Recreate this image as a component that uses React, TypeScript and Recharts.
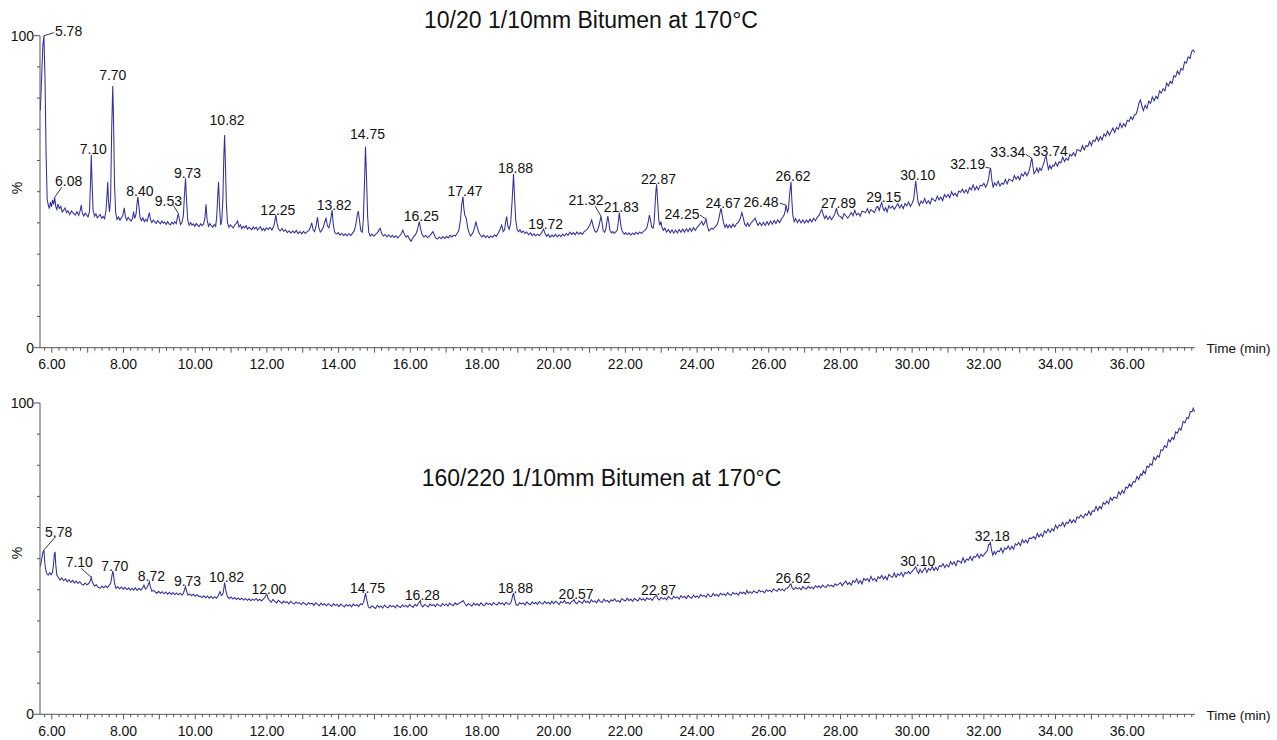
import React from "react";
import { LineChart, Line, XAxis, YAxis, ReferenceDot } from "recharts";

const FONT = "'Liberation Sans', Arial, sans-serif";
const AXIS = "#555555";
const TRACE = "#30309e";

// ---------- Top chromatogram (10/20) : [time (min), relative abundance %] ----------
const topTraceA: [number, number][] = [
  [5.68,76],[5.72,88],[5.75,97],[5.78,100],[5.81,86],[5.84,62],[5.87,47.5],[5.9,45.8],[5.93,44.6],[5.96,46.7],[5.99,45.1],[6.02,47.4],[6.05,45.9],[6.08,48.2],[6.11,45.2],[6.14,44.3],[6.17,46.1],[6.21,44.6],[6.25,45.3],[6.29,43.5],[6.33,44.1],[6.37,44.8],[6.41,43.3],[6.45,43.9],[6.5,42.7],[6.55,43.8],[6.6,43.1],[6.65,42.5],[6.7,43.6],[6.75,42.4],[6.79,43.9],[6.82,45.7],[6.85,43.2],[6.89,42.2],[6.93,43.1],[6.97,42.6],[7.01,41.9],[7.05,43.6],[7.08,53],[7.10,61.8],[7.12,54],[7.15,44.2],[7.19,42.1],[7.23,42.9],[7.27,41.6],[7.31,42.2],[7.35,42.7],[7.39,41.5],[7.43,42.1],[7.47,41.3],[7.51,43.8],[7.54,49],[7.56,53.2],[7.58,47],[7.61,43.5],[7.64,48],[7.67,70],[7.70,83.9],[7.72,74],[7.75,52],[7.78,43.3],[7.82,41.1],[7.86,41.9],[7.9,40.9],[7.94,41.6],[7.98,42.4],[8.02,44.8],[8.05,42.1],[8.09,40.8],[8.13,41.8],[8.17,41.1],[8.21,40.6],[8.25,41.4],[8.28,43.6],[8.31,41.4],[8.35,42.9],[8.38,46.5],[8.40,48.4],[8.43,45.3],[8.46,41.8],[8.5,40.7],[8.54,41.6],[8.58,40.4],[8.62,41.1],[8.66,40.5],[8.69,41.9],[8.72,43.3],[8.75,41.1],[8.79,40.1],[8.83,40.9],[8.87,40.4],[8.91,39.8],[8.95,40.7],[8.99,40.2],[9.03,39.7],[9.07,40.6],[9.11,39.9],[9.15,40.3],[9.19,39.5],[9.23,40.4],[9.27,39.7],[9.31,39.4],[9.35,40.2],[9.39,39.6],[9.43,40.4],[9.47,39.8],[9.50,41.6],[9.53,43],[9.56,41],[9.59,39.5],[9.63,40.1],[9.67,42.5],[9.70,49],[9.73,54.3],[9.76,47],[9.79,41],[9.83,39.2],[9.87,40.1],[9.91,39.3],[9.95,39.7],[9.99,38.9],[10.03,39.8],[10.07,39.2],[10.11,38.8],[10.15,39.7],[10.19,39.1],[10.23,39.6],[10.27,41.5],[10.30,46],[10.33,41.2],[10.37,38.9],[10.41,39.8],[10.45,39],[10.49,38.6],[10.53,39.5],[10.57,38.9],[10.6,42],[10.63,49],[10.65,53.2],[10.68,45],[10.71,39.3],[10.74,40.6],[10.77,47],[10.80,62],[10.82,68.2],[10.84,60],[10.87,46],[10.9,40.1],[10.94,38.6],[10.98,39.4],[11.02,38.9],[11.06,38.4],[11.1,39.3],[11.14,39.8],[11.18,40.6],[11.22,38.7],[11.26,39.4],[11.3,38.2],[11.34,38.9],[11.38,38.4],[11.42,39.1],[11.46,38],[11.5,38.6],[11.54,38.2],[11.58,37.8],[11.62,38.7],[11.66,38.1],[11.7,38.6],[11.74,37.7],[11.78,38.3],[11.82,38.8],[11.86,37.6],[11.9,38.2],[11.94,37.5],[11.98,38.4],
];
const topTraceB: [number, number][] = [
  [12.04,37.9],[12.09,38.6],[12.14,37.7],[12.19,38.9],[12.22,40.5],[12.25,42.5],[12.28,40],[12.32,38.1],[12.37,37.4],[12.42,38.2],[12.47,37.3],[12.52,37.8],[12.57,36.9],[12.62,37.5],[12.67,36.7],[12.72,37.4],[12.77,36.8],[12.82,37.6],[12.87,36.6],[12.92,37.2],[12.97,36.5],[13.02,37.3],[13.07,36.6],[13.12,37.1],[13.17,37.6],[13.21,38.5],[13.25,40],[13.29,37.8],[13.33,37.2],[13.37,39],[13.41,41.8],[13.45,38.4],[13.49,37.1],[13.53,37.6],[13.57,38.5],[13.61,40.2],[13.65,41.5],[13.69,39],[13.73,38.4],[13.77,40.5],[13.82,44.1],[13.85,39.5],[13.89,37],[13.94,36.4],[13.99,36.9],[14.04,36.1],[14.09,36.7],[14.14,35.9],[14.19,36.5],[14.24,35.8],[14.29,36.6],[14.34,35.9],[14.39,36.8],[14.44,37.5],[14.48,39.5],[14.52,42.5],[14.55,43.8],[14.58,41],[14.62,37.5],[14.66,37],[14.69,41],[14.72,52],[14.75,64.4],[14.78,54],[14.81,42],[14.84,37],[14.88,35.8],[14.93,36.4],[14.98,35.7],[15.03,36.3],[15.08,36.8],[15.12,37.6],[15.16,38.3],[15.2,36.6],[15.25,35.8],[15.3,36.3],[15.35,35.5],[15.4,36.2],[15.45,35.4],[15.5,36],[15.55,35.3],[15.6,35.9],[15.65,35.2],[15.7,35.8],[15.75,36.6],[15.79,37.7],[15.83,36.5],[15.88,35.4],[15.93,35.9],[15.98,34.8],[16.02,34.1],[16.06,35],[16.1,35.6],[16.15,36.3],[16.2,37.8],[16.25,40.4],[16.29,38],[16.33,36.2],[16.38,35.5],[16.43,36],[16.48,35.3],[16.53,35.8],[16.58,36.4],[16.63,37.2],[16.67,36.1],[16.71,35.2],[16.76,34.8],[16.81,35.5],[16.86,34.9],[16.91,35.6],[16.96,35],[17.01,35.7],[17.06,35.2],[17.11,36],[17.16,35.5],[17.21,36.1],[17.26,35.8],[17.3,36.5],[17.35,37.5],[17.4,41],[17.43,45.5],[17.47,48.4],[17.49,45],[17.52,42.5],[17.56,41.5],[17.6,38.5],[17.64,36.8],[17.68,35.8],[17.72,36.4],[17.76,37.2],[17.8,38.8],[17.83,40.4],[17.87,38.5],[17.91,37],[17.95,36.2],[18,35.5],[18.05,36.1],[18.1,35.3],[18.15,35.9],[18.2,35.2],[18.25,35.8],[18.3,35.4],[18.35,36.2],[18.4,35.7],[18.45,36.7],[18.5,37.8],[18.55,39.3],[18.59,37.2],[18.63,37.8],[18.66,40.5],[18.69,42],[18.72,39],[18.76,38],[18.8,40],[18.84,47],[18.88,55.7],[18.91,48],[18.94,41],[18.98,37.8],[19.02,37.2],[19.06,37.8],[19.1,36.9],[19.15,37.4],[19.2,36.6],[19.25,37.1],[19.3,36.2],[19.35,36.8],[19.4,35.9],[19.45,36.5],[19.5,35.8],[19.55,36.4],[19.6,35.9],[19.65,36.6],[19.69,37.5],[19.72,38],[19.75,36.8],[19.8,35.7],[19.85,36.3],[19.9,35.4],[19.95,36.1],
];
const topTraceC: [number, number][] = [
  [20,35.6],[20.05,36.3],[20.1,35.5],[20.15,36.2],[20.2,35.6],[20.25,36.4],[20.3,35.8],[20.35,36.6],[20.4,36],[20.45,37],[20.5,36.3],[20.55,36.9],[20.6,36.2],[20.65,37.1],[20.7,36.4],[20.75,36.9],[20.8,36.3],[20.85,37.2],[20.9,37.6],[20.95,38.2],[21,39.2],[21.03,40],[21.06,40.9],[21.1,39],[21.14,37.6],[21.18,37],[21.22,37.5],[21.26,39],[21.29,40.5],[21.32,42.2],[21.35,40],[21.38,37.6],[21.42,37],[21.45,37.8],[21.48,40],[21.51,42.2],[21.54,40],[21.57,37.6],[21.61,36.8],[21.65,37.2],[21.69,36.6],[21.73,37.1],[21.77,37.6],[21.8,40],[21.83,43.3],[21.86,40.5],[21.89,38],[21.93,37],[21.97,36.4],[22.01,36.9],[22.05,36.2],[22.1,36.8],[22.15,36.1],[22.2,36.7],[22.25,36.3],[22.3,37],[22.35,36.4],[22.4,37.1],[22.45,36.6],[22.5,37.3],[22.55,37.6],[22.6,38.5],[22.64,40.5],[22.67,42.5],[22.7,41],[22.73,38.8],[22.77,38.3],[22.8,40],[22.83,46],[22.85,50],[22.87,52.4],[22.9,47],[22.93,41],[22.96,39.2],[22.99,40.4],[23.02,38.6],[23.06,37.6],[23.1,38.3],[23.15,37],[23.2,37.9],[23.25,36.8],[23.3,37.8],[23.35,36.7],[23.4,37.7],[23.45,36.8],[23.5,37.9],[23.55,37],[23.6,38],[23.65,37],[23.7,38.1],[23.75,37.2],[23.8,38.3],[23.85,37.3],[23.9,38.5],[23.95,37.6],[24,38.6],[24.05,39.2],[24.09,39.8],[24.13,40.4],[24.17,39.3],[24.21,40],[24.25,41.2],[24.29,38.8],[24.33,37.4],[24.37,37.9],[24.41,38.3],[24.45,38],[24.49,38.6],[24.53,39],[24.57,39.8],[24.61,41.5],[24.64,43.3],[24.67,44.7],[24.7,42.5],[24.74,40],[24.78,38.6],[24.82,39.5],[24.86,38.4],[24.9,39.4],[24.95,38.5],[25,39.6],[25.05,38.7],[25.1,39.8],[25.15,40.1],[25.2,41.3],[25.25,43.3],[25.29,41.5],[25.33,39.5],[25.37,39],[25.41,40],[25.45,38.9],[25.5,39.9],[25.54,40.4],[25.58,41],[25.62,41.5],[25.66,40.2],[25.7,39.2],[25.75,40.1],[25.8,39.1],[25.85,40.2],[25.9,39.2],[25.95,40.4],[26,39.4],[26.05,40.6],[26.1,39.6],[26.15,40.8],[26.2,39.8],[26.25,41],[26.3,40.1],[26.35,41.2],[26.39,41.8],[26.43,42.6],[26.46,44],[26.48,45.7],[26.52,43.5],[26.55,44.5],[26.58,49],[26.62,53.2],[26.64,48],[26.67,42.5],[26.71,40.4],[26.75,41.4],[26.8,40.1],[26.85,41.1],[26.9,40],[26.95,41],[27,39.9],[27.05,40.9],[27.1,40.1],[27.15,41.2],[27.2,40.3],[27.25,41.5],[27.3,40.7],[27.35,41.8],[27.4,42.4],[27.44,43.4],[27.48,44.3],[27.52,42.6],[27.56,41.4],[27.6,42.3],[27.65,41.1],[27.7,42.1],[27.75,41],[27.8,42],[27.84,42.8],[27.89,44.7],[27.92,43],[27.96,42.2],
];
const topTraceD: [number, number][] = [
  [28,42.1],[28.05,41.3],[28.1,43],[28.15,42.3],[28.2,41.5],[28.25,42.3],[28.3,43.3],[28.35,42.3],[28.4,44],[28.45,42.5],[28.5,43.1],[28.55,42.2],[28.6,43.8],[28.65,43.6],[28.7,43.3],[28.75,44.6],[28.8,43.1],[28.85,44.3],[28.9,43.8],[28.95,43.3],[29,44.9],[29.04,45.3],[29.08,44],[29.12,45.6],[29.15,46.5],[29.18,45],[29.22,43.9],[29.26,44.9],[29.3,43.5],[29.35,45.5],[29.4,44.7],[29.45,45.4],[29.5,44.3],[29.55,45.3],[29.6,46.2],[29.65,44.8],[29.7,45.8],[29.75,44.6],[29.8,46.2],[29.85,45.5],[29.9,46.7],[29.95,45.3],[30,46.3],[30.04,47.5],[30.07,50.5],[30.10,53.5],[30.13,50],[30.16,47],[30.2,45.6],[30.25,47],[30.3,46.3],[30.35,47.8],[30.4,46.2],[30.45,47.1],[30.5,46.1],[30.55,47.9],[30.6,47.4],[30.65,47],[30.7,48.6],[30.75,47.4],[30.8,48.3],[30.85,47.1],[30.9,49.1],[30.95,48.2],[31,49.1],[31.05,48.1],[31.1,50],[31.15,48.8],[31.2,49.5],[31.25,48.5],[31.3,50.2],[31.35,49.8],[31.4,50.8],[31.45,49.6],[31.5,50.6],[31.55,49.5],[31.6,51.3],[31.65,50.6],[31.7,52.2],[31.75,50.5],[31.8,51.7],[31.85,50.6],[31.9,52.1],[31.95,51.8],[32,52.7],[32.05,51.4],[32.09,52.4],[32.13,54],[32.16,56.5],[32.19,57.5],[32.22,54],[32.26,51.3],[32.3,52.8],[32.35,52],[32.4,53.4],[32.45,51.8],[32.5,52.7],[32.55,52.4],[32.6,53.9],[32.65,52.5],[32.7,54],[32.75,53.8],[32.8,53.3],[32.85,55.2],[32.9,54],[32.95,54.9],[33,53.8],[33.05,55.7],[33.1,55],[33.15,56.3],[33.2,55.1],[33.25,56.3],[33.29,58],[33.32,60],[33.34,60.7],[33.37,58],[33.4,55.8],[33.44,56.5],[33.48,57.6],[33.52,56.2],[33.56,57.6],[33.6,56.8],[33.64,58.1],[33.68,59.5],[33.71,61],[33.74,61.4],[33.77,59],[33.8,57.2],[33.84,58.4],[33.88,57.3],[33.92,58.5],[33.96,58.2],[34,59.4],[34.05,58.2],[34.1,59.6],[34.15,59.3],[34.2,61.1],[34.25,59.7],[34.3,60.7],[34.35,60.1],[34.4,62],[34.45,61.5],[34.5,62.5],[34.55,61.4],[34.6,63.5],[34.65,63.3],[34.7,62.9],[34.75,64.8],[34.8,63.4],[34.85,64.8],[34.9,64.5],[34.95,66.1],[35,64.8],[35.05,66.5],[35.1,66.1],[35.15,67.6],[35.2,66.2],[35.25,67.6],[35.3,66.6],[35.35,68.5],[35.4,67.8],[35.45,69.4],[35.5,68.1],[35.55,69.3],[35.6,70.4],[35.65,69],[35.7,70.6],[35.75,70],[35.8,71.9],[35.85,70.5],[35.9,71.8],[35.95,70.9],[36,72.9],[36.05,72.5],[36.1,74],[36.15,73.1],[36.2,74.6],[36.25,74.9],[36.29,76.5],[36.33,78.5],[36.37,79.4],[36.41,77.3],[36.45,76],[36.5,77.7],[36.55,76.7],[36.6,79],[36.65,78.3],[36.7,80.4],[36.75,79.1],[36.8,80.6],[36.85,79.8],[36.9,82.3],[36.95,81.6],[37,83],[37.05,82.3],[37.1,84.8],[37.15,83.9],[37.2,85.4],[37.25,84.7],[37.3,87.2],[37.35,86.8],[37.4,88.7],[37.45,87.6],[37.5,89.5],[37.55,89],[37.6,91.6],[37.65,91.2],[37.7,93.2],[37.75,92.7],[37.8,95],[37.84,95.4],[37.88,94.6],
];

// ---------- Bottom chromatogram (160/220) ----------
const botTraceA: [number, number][] = [
  [5.68,47.5],[5.72,50],[5.75,52],[5.78,52.8],[5.8,49],[5.83,46.4],[5.86,45.2],[5.9,44.7],[5.94,45.5],[5.98,44.8],[6.02,45.6],[6.05,48.5],[6.07,51.5],[6.09,52.2],[6.11,48],[6.14,44.7],[6.18,44],[6.23,43.1],[6.28,43.8],[6.33,42.9],[6.38,43.5],[6.43,42.6],[6.48,43.2],[6.53,42.4],[6.58,43],[6.63,42.2],[6.68,42.8],[6.73,42],[6.78,42.6],[6.83,41.8],[6.88,41.5],[6.93,42.2],[6.98,41.6],[7.03,42],[7.07,42.8],[7.10,44],[7.12,43],[7.15,42],[7.19,41.2],[7.24,41.6],[7.29,40.8],[7.35,40.5],[7.4,41.2],[7.45,40.6],[7.5,41.3],[7.55,40.7],[7.6,41.4],[7.64,42],[7.67,44],[7.70,46],[7.72,45],[7.75,42],[7.79,40.5],[7.84,41],[7.89,40.3],[7.94,40.9],[7.99,40.2],[8.04,40.8],[8.09,40],[8.14,40.6],[8.19,39.9],[8.24,40.5],[8.28,39.9],[8.33,40.6],[8.38,39.8],[8.43,40.5],[8.48,39.9],[8.53,40.6],[8.57,41.5],[8.61,40.3],[8.65,40.6],[8.69,41.6],[8.72,42.6],[8.75,41],[8.79,39.5],[8.84,39.8],[8.89,39.2],[8.93,38.9],[8.98,39.5],[9.03,38.9],[9.08,39.4],[9.13,38.7],[9.18,39.3],[9.23,38.6],[9.28,39.2],[9.33,38.5],[9.38,39.1],[9.43,38.4],[9.48,39],[9.53,38.4],[9.58,38.9],[9.63,38.3],[9.67,38.9],[9.70,40],[9.73,41],[9.76,39.5],[9.8,38.3],[9.85,38.7],[9.9,38.1],[9.95,38.6],[10,37.9],[10.05,38.5],[10.1,37.8],[10.14,38],[10.19,37.5],[10.24,38.1],[10.29,37.4],[10.34,38],[10.39,37.3],[10.44,37.9],[10.49,37.2],[10.54,37.8],[10.59,37.3],[10.64,38],[10.69,39.4],[10.73,38.2],[10.77,38.6],[10.80,40.5],[10.82,42.3],[10.86,39.5],[10.9,37.8],[10.95,37.2],[11,37.7],[11.05,37],[11.1,37.5],[11.15,36.9],[11.2,37.4],[11.25,36.8],[11.3,37.3],[11.35,36.7],[11.4,37.2],[11.45,36.6],[11.5,37.1],[11.55,36.5],[11.6,37],[11.65,36.6],[11.7,37.2],[11.75,36.5],[11.8,37],[11.85,36.4],[11.9,37],[11.94,37.5],[11.97,38.2],[12.00,38.5],[12.03,37.2],
];
const botTraceB: [number, number][] = [
  [12.07,36.6],[12.12,36],[12.17,36.9],[12.22,36.3],[12.27,35.8],[12.32,36.6],[12.37,36.1],[12.42,35.6],[12.46,36.4],[12.51,35.9],[12.56,36.2],[12.61,35.5],[12.66,36.3],[12.71,35.8],[12.76,35.4],[12.81,36.1],[12.86,35.6],[12.91,35.9],[12.96,35.2],[13.01,36],[13.06,35.5],[13.11,35.1],[13.16,35.9],[13.21,35.4],[13.26,35.7],[13.31,35],[13.36,35.8],[13.41,35.3],[13.46,34.9],[13.51,35.7],[13.56,35.1],[13.61,35.5],[13.66,34.8],[13.71,35.6],[13.76,35.1],[13.81,34.7],[13.86,35.5],[13.91,35],[13.96,35.3],[14.01,34.6],[14.06,35.4],[14.11,34.9],[14.16,34.5],[14.21,35.3],[14.26,34.8],[14.31,35.2],[14.36,34.5],[14.41,35.4],[14.46,34.9],[14.51,35.2],[14.56,34.6],[14.61,35.5],[14.66,35.2],[14.7,36.2],[14.73,37.8],[14.75,38.9],[14.79,36.5],[14.83,34.5],[14.88,34.1],[14.93,34.9],[14.98,34.4],[15.03,34],[15.08,35],[15.13,34.4],[15.18,34.8],[15.23,34.1],[15.28,35.1],[15.33,34.5],[15.38,34.2],[15.43,35],[15.48,34.5],[15.53,34.9],[15.58,34.2],[15.63,35.1],[15.68,34.6],[15.73,34.3],[15.78,35.2],[15.83,34.6],[15.88,35],[15.93,34.4],[15.98,35.3],[16.03,34.7],[16.08,34.4],[16.13,35.3],[16.18,34.8],[16.22,35.6],[16.25,36],[16.28,36.5],[16.3,35.2],[16.35,34.5],[16.4,35.3],[16.45,34.9],[16.5,34.5],[16.55,35.4],[16.6,34.9],[16.65,35.2],[16.7,34.6],[16.75,35.5],[16.8,35],[16.85,34.7],[16.9,35.6],[16.95,35],[17,35.4],[17.05,34.8],[17.1,35.7],[17.15,35.2],[17.2,34.9],[17.25,35.8],[17.3,35.2],[17.35,35.6],[17.4,35.9],[17.45,36.3],[17.48,36.5],[17.52,35.6],[17.57,34.8],[17.62,35.6],[17.67,35.1],[17.72,34.8],[17.77,35.7],[17.82,35.1],[17.87,35.5],[17.92,34.9],[17.97,35.8],[18.02,35.2],[18.07,34.9],[18.12,35.8],[18.17,35.3],[18.22,35.6],[18.27,35],[18.32,35.9],[18.37,35.4],[18.42,35.1],[18.47,36],[18.52,35.4],[18.57,35.8],[18.62,35.1],[18.67,36],[18.72,35.5],[18.77,35.3],[18.82,36.3],[18.85,37.8],[18.88,38.9],[18.91,37],[18.95,35.2],[19,35],[19.05,35.9],[19.1,35.4],[19.15,35.8],[19.2,35.1],[19.25,36.1],[19.3,35.5],[19.35,35.2],[19.4,36.1],[19.45,35.5],[19.5,35.9],[19.55,35.3],[19.6,36.2],[19.65,35.7],[19.7,35.4],[19.75,36.3],[19.8,35.6],[19.85,36],[19.9,35.4],[19.95,36.3],
];
const botTraceC: [number, number][] = [
  [20,35.5],[20.05,36.3],[20.1,35.9],[20.15,35.3],[20.2,36.2],[20.25,35.8],[20.3,36.6],[20.35,35.6],[20.4,36],[20.45,35.4],[20.5,36.3],[20.54,36.5],[20.57,36.8],[20.6,35.9],[20.65,35.5],[20.7,36.4],[20.75,36.1],[20.8,35.6],[20.85,36.7],[20.9,35.9],[20.95,36.3],[21,35.7],[21.05,36.8],[21.1,36.1],[21.15,36.4],[21.2,35.8],[21.25,36.9],[21.3,36.2],[21.35,35.9],[21.4,37],[21.45,36.3],[21.5,36.6],[21.55,35.9],[21.6,36.8],[21.65,36.4],[21.7,37.1],[21.75,36.2],[21.8,36.6],[21.85,36],[21.9,37.2],[21.95,36.7],[22,36.4],[22.05,37.3],[22.1,36.5],[22.15,37],[22.2,36.3],[22.25,37.2],[22.3,36.8],[22.35,36.4],[22.4,37.4],[22.45,36.7],[22.5,37.1],[22.55,36.5],[22.6,37.4],[22.65,36.9],[22.7,37.2],[22.75,36.6],[22.8,37.5],[22.84,38],[22.87,38.3],[22.9,37.2],[22.95,36.7],[23,37.6],[23.05,37],[23.1,37.4],[23.15,36.8],[23.2,37.9],[23.25,37.3],[23.3,37],[23.35,37.9],[23.4,37.3],[23.45,37.7],[23.5,37],[23.55,38.1],[23.6,37.5],[23.65,37.9],[23.7,37.2],[23.75,38.2],[23.8,37.6],[23.85,37.3],[23.9,38.3],[23.95,37.6],[24,38],[24.05,37.4],[24.1,38.5],[24.15,37.9],[24.2,38.2],[24.25,37.6],[24.3,38.7],[24.35,38],[24.4,37.8],[24.45,38.8],[24.5,38.1],[24.55,38.5],[24.6,37.9],[24.65,38.9],[24.7,38.4],[24.75,38.7],[24.8,38.1],[24.85,39.1],[24.9,38.5],[24.95,38.2],[25,39.2],[25.05,38.6],[25.1,38.9],[25.15,38.3],[25.2,39.3],[25.25,38.8],[25.3,39.2],[25.35,38.6],[25.39,39.8],[25.43,38.9],[25.48,39.4],[25.53,38.8],[25.58,39.7],[25.63,39.2],[25.68,39],[25.73,39.9],[25.78,39.3],[25.83,39.6],[25.88,39],[25.93,40],[25.98,39.5],[26.03,39.9],[26.08,39.3],[26.13,40.3],[26.18,39.8],[26.23,39.5],[26.28,40.4],[26.33,39.8],[26.38,40.2],[26.43,39.6],[26.48,40.5],[26.53,40.6],[26.57,41.2],[26.6,41.8],[26.62,41.9],[26.65,40.6],[26.7,40],[26.75,40.8],[26.8,40.3],[26.85,40.7],[26.9,40],[26.95,41],[27,40.5],[27.05,40.2],[27.1,41.1],[27.15,40.5],[27.2,40.9],[27.25,40.3],[27.3,41.3],[27.35,40.8],[27.4,41.2],[27.45,40.6],[27.5,41.5],[27.55,41],[27.6,40.8],[27.65,41.7],[27.7,41.1],[27.75,41.5],[27.8,40.9],[27.85,41.9],[27.9,41.4],[27.95,41.8],
];
const botTraceD: [number, number][] = [
  [28,42.3],[28.05,41.3],[28.1,42.2],[28.15,42.8],[28.2,41.7],[28.25,42.3],[28.3,41.5],[28.35,43],[28.4,42.3],[28.45,43.5],[28.5,42.1],[28.55,43],[28.6,41.9],[28.65,43.6],[28.7,43],[28.75,43.6],[28.8,42.6],[28.85,44.3],[28.9,43.1],[28.95,43.6],[29,42.7],[29.05,44.2],[29.1,43.6],[29.15,44.6],[29.2,43.4],[29.25,44.3],[29.3,43.2],[29.35,44.9],[29.4,44.4],[29.45,44],[29.5,45.4],[29.55,44],[29.6,45.1],[29.65,44.6],[29.7,45.6],[29.75,44.2],[29.8,45.6],[29.85,45.2],[29.9,45.9],[29.94,45.1],[29.98,45.7],[30.02,46.2],[30.06,46.8],[30.10,47.4],[30.14,46],[30.18,45.2],[30.22,46.6],[30.27,45.5],[30.31,46.2],[30.36,47.1],[30.41,45.6],[30.46,46.8],[30.51,46.3],[30.56,47.5],[30.61,46.2],[30.66,47.2],[30.71,46.3],[30.76,47.8],[30.81,47.4],[30.86,48.4],[30.91,47.1],[30.96,48.1],[31.02,47.3],[31.07,49.1],[31.12,48.1],[31.17,49],[31.22,47.7],[31.27,49.4],[31.32,49.1],[31.37,48.6],[31.42,50.3],[31.47,48.8],[31.52,49.9],[31.57,49.5],[31.62,50.7],[31.67,49.4],[31.72,50.7],[31.77,50.4],[31.82,51.5],[31.87,50.2],[31.92,51.4],[31.97,50.7],[32.01,51.4],[32.06,52.1],[32.1,52.6],[32.13,54.5],[32.16,54.6],[32.18,55.4],[32.21,53],[32.25,51.1],[32.29,52.3],[32.33,51.4],[32.38,52.5],[32.43,52.2],[32.48,53.4],[32.53,51.9],[32.58,53.4],[32.63,53],[32.68,54.1],[32.73,52.9],[32.78,54],[32.83,53],[32.88,54.8],[32.92,54.3],[32.97,55.2],[33.02,54.2],[33.07,56.1],[33.12,55.1],[33.17,56],[33.22,55],[33.27,56.7],[33.32,56.4],[33.39,57.1],[33.44,56.3],[33.49,58.1],[33.54,57],[33.59,57.9],[33.64,57],[33.69,58.9],[33.74,58.2],[33.79,59.5],[33.85,58.4],[33.9,59.6],[33.95,58.9],[34,60.8],[34.05,59.7],[34.1,60.8],[34.15,60.5],[34.2,61.7],[34.25,60.3],[34.3,61.7],[34.35,61.3],[34.4,62.6],[34.45,61.5],[34.5,62.5],[34.55,61.6],[34.6,63.4],[34.65,63],[34.7,64],[34.78,63.1],[34.83,64.4],[34.88,63.9],[34.93,65.3],[34.98,64],[35.03,65.4],[35.08,65.2],[35.13,66.8],[35.18,65.5],[35.23,66.8],[35.28,66],[35.33,68],[35.38,67.4],[35.43,68.5],[35.48,67.6],[35.53,69.6],[35.58,68.7],[35.63,69.8],[35.71,69.4],[35.76,71.5],[35.81,70.6],[35.86,71.9],[35.91,71],[35.96,73],[36.01,72.6],[36.06,74],[36.11,73.1],[36.17,74.8],[36.22,74.6],[36.27,76.4],[36.32,75.4],[36.37,77.2],[36.41,76.7],[36.45,78.2],[36.5,77.3],[36.55,79.7],[36.6,79.3],[36.64,80.5],[36.69,80],[36.74,82.6],[36.79,81.7],[36.84,83.1],[36.89,82.6],[36.94,85],[36.99,84.7],[37.04,86.3],[37.1,85.7],[37.15,88.2],[37.2,87.5],[37.25,88.9],[37.3,88.3],[37.35,90.7],[37.4,90.3],[37.45,91.9],[37.5,91.3],[37.56,94.1],[37.61,93.6],[37.66,95.3],[37.71,95.1],[37.76,97.3],[37.81,97.2],[37.84,98.3],[37.88,97.2],
];

// ---------- Peak annotations (retention times) ----------
const topPeaks = [5.78, 6.08, 7.10, 7.70, 8.40, 9.53, 9.73, 10.82, 12.25, 13.82, 14.75, 16.25, 17.47, 18.88, 19.72, 21.32, 21.83, 22.87, 24.25, 24.67, 26.48, 26.62, 27.89, 29.15, 30.10, 32.19, 33.34, 33.74];
const bottomPeaks = [5.78, 7.10, 7.70, 8.72, 9.73, 10.82, 12.00, 14.75, 16.28, 18.88, 20.57, 22.87, 26.62, 30.10, 32.18];

// ---------- Axis ticks ----------
const yTicks = [0, 10, 20, 30, 40, 50, 60, 70, 80, 90, 100];
const yLabelTicks = [0, 100];
const xLabelTicks = [6, 8, 10, 12, 14, 16, 18, 20, 22, 24, 26, 28, 30, 32, 34, 36];
const X_DOMAIN: [number, number] = [5.67, 37.89];

// Label placement (pixel offsets from peak apex) -- layout only
type Lay = { dx?: number; dy?: number; anchor?: "start" | "middle" | "end"; lx?: number; ly?: number };
const topLayout: Record<string, Lay> = {
  "5.78": { dx: 11, dy: 0, anchor: "start", lx: 10, ly: -3 },
  "6.08": { dx: 14, dy: -11, lx: 7, ly: -10 },
  "7.70": { dx: 0, dy: -6 },
  "9.53": { dx: -10, dy: -8, lx: -5, ly: -8 },
  "10.82": { dx: 2.5, dy: -10 },
  "14.75": { dx: 2, dy: -8 },
  "21.32": { dx: -15, dy: -11, lx: -6, ly: -10 },
  "24.25": { dx: -24, dy: 0, lx: -6, ly: -4 },
  "26.48": { dx: -25, dy: 1.5, lx: -6, ly: -2 },
  "32.19": { dx: -23, dy: 1, lx: -5, ly: -1 },
  "33.34": { dx: -24, dy: -1, lx: -6, ly: -4 },
  "33.74": { dx: 4, dy: 0 },
};
const bottomLayout: Record<string, Lay> = {
  "5.78": { dx: 14.7, dy: -13.3, lx: 11.7, ly: -13.3 },
  "7.10": { dx: -12, dy: -10.6, lx: -10, ly: -9 },
};

type Pt = { t: number; v: number };
const toPts = (arr: [number, number][]) => arr.map(([t, v]) => ({ t, v }));
const topData: Pt[] = toPts([...topTraceA, ...topTraceB, ...topTraceC, ...topTraceD]);
const bottomData: Pt[] = toPts([...botTraceA, ...botTraceB, ...botTraceC, ...botTraceD]);

const nearest = (data: Pt[], t: number) =>
  data.reduce((best, p) => (Math.abs(p.t - t) < Math.abs(best.t - t) ? p : best), data[0]);

const xTickPositions: number[] = [];
for (let k = Math.ceil(X_DOMAIN[0] * 5); k <= Math.floor(X_DOMAIN[1] * 5); k++) xTickPositions.push(k / 5);

const XTick = (props: any) => {
  const { x, y, payload } = props;
  const v = Math.round(payload.value * 10) / 10;
  const major = Math.abs(v - Math.round(v)) < 1e-6;
  const showLabel = major && xLabelTicks.includes(Math.round(v));
  return (
    <g>
      <line x1={x} x2={x} y1={y} y2={y + (major ? 5 : 3)} stroke={AXIS} strokeWidth={1} />
      {showLabel && (
        <text x={x} y={y + 21.5} textAnchor="middle" fontSize={14} fontFamily={FONT} fill="#111">
          {v.toFixed(2)}
        </text>
      )}
    </g>
  );
};

const YTick = (props: any) => {
  const { x, y, payload } = props;
  const v = payload.value;
  const lab = yLabelTicks.includes(v);
  return (
    <g>
      <line x1={x - (lab ? 6 : 3)} x2={x} y1={y} y2={y} stroke={AXIS} strokeWidth={1} />
      {lab && (
        <text x={x - 6} y={y + 5} textAnchor="end" fontSize={14} fontFamily={FONT} fill="#111">
          {v}
        </text>
      )}
    </g>
  );
};

const PeakMark = ({ cx, cy, text, lay }: { cx: number; cy: number; text: string; lay?: Lay }) => {
  const dx = lay?.dx ?? 2;
  const dy = lay?.dy ?? -0.5;
  const anchor = lay?.anchor ?? "middle";
  return (
    <g>
      {lay?.lx !== undefined && (
        <line x1={cx} y1={cy} x2={cx + (lay.lx as number)} y2={cy + (lay.ly as number)} stroke="#222" strokeWidth={0.9} />
      )}
      <text x={cx + dx} y={cy + dy} textAnchor={anchor} fontSize={14} fontFamily={FONT} fill="#111">
        {text}
      </text>
    </g>
  );
};

function Panel({ data, peaks, layout, top, height, margin }: {
  data: Pt[]; peaks: number[]; layout: Record<string, Lay>; top: number; height: number;
  margin: { top: number; right: number; bottom: number; left: number };
}) {
  return (
    <div style={{ position: "absolute", left: 0, top, width: 1277, height }}>
      <LineChart width={1277} height={height} data={data} margin={margin}>
        <XAxis
          type="number"
          dataKey="t"
          domain={X_DOMAIN}
          allowDataOverflow
          ticks={xTickPositions}
          interval={0}
          tickSize={0}
          tickMargin={0}
          tickLine={false}
          tick={<XTick />}
          axisLine={{ stroke: AXIS, strokeWidth: 1 }}
          height={30}
        />
        <YAxis
          type="number"
          domain={[0, 100]}
          ticks={yTicks}
          interval={0}
          tickSize={0}
          tickMargin={0}
          tickLine={false}
          tick={<YTick />}
          axisLine={{ stroke: AXIS, strokeWidth: 1 }}
          width={40}
        />
        <Line
          type="linear"
          dataKey="v"
          stroke={TRACE}
          strokeWidth={1.05}
          dot={false}
          activeDot={false}
          isAnimationActive={false}
        />
        {peaks.map((pt) => {
          const p = nearest(data, pt);
          const label = pt.toFixed(2);
          return (
            <ReferenceDot
              key={label}
              x={p.t}
              y={p.v}
              r={0}
              ifOverflow="visible"
              shape={(sp: any) => <PeakMark cx={sp.cx} cy={sp.cy} text={label} lay={layout[label]} />}
            />
          );
        })}
      </LineChart>
    </div>
  );
}

export default function App() {
  return (
    <div style={{ position: "absolute", left: 0, top: 0, width: 1277, height: 740, background: "#fff", fontFamily: FONT }}>
      <Panel data={topData} peaks={topPeaks} layout={topLayout} top={0} height={390}
        margin={{ top: 35.7, right: 82, bottom: 12.3, left: 0 }} />
      <Panel data={bottomData} peaks={bottomPeaks} layout={bottomLayout} top={370} height={380}
        margin={{ top: 33, right: 82, bottom: 5.7, left: 0 }} />
      <svg width={1277} height={740} style={{ position: "absolute", left: 0, top: 0, pointerEvents: "none" }}>
        <text x={591} y={28.3} textAnchor="middle" fontSize={23} fontFamily={FONT} fill="#111">10/20 1/10mm Bitumen at 170°C</text>
        <text x={601.5} y={486} textAnchor="middle" fontSize={23} fontFamily={FONT} fill="#111">160/220 1/10mm Bitumen at 170°C</text>
        <text x={1206.5} y={353} fontSize={13.5} fontFamily={FONT} fill="#111">Time (min)</text>
        <text x={1206.5} y={719.5} fontSize={13.5} fontFamily={FONT} fill="#111">Time (min)</text>
        <text x={21.5} y={188} transform="rotate(-90 21.5 188)" textAnchor="middle" fontSize={14} fontFamily={FONT} fill="#111">%</text>
        <text x={21.5} y={553} transform="rotate(-90 21.5 553)" textAnchor="middle" fontSize={14} fontFamily={FONT} fill="#111">%</text>
      </svg>
    </div>
  );
}
